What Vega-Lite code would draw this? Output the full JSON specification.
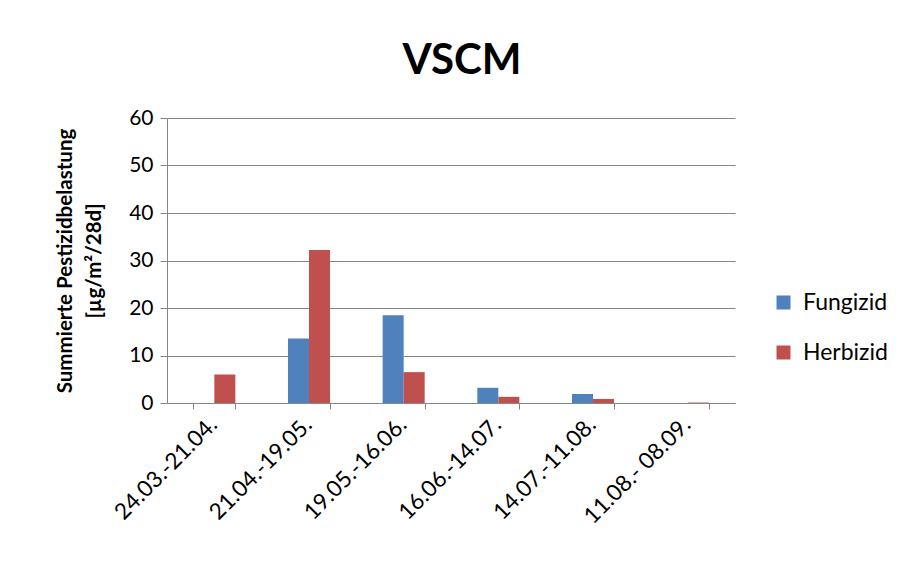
{
  "$schema": "https://vega.github.io/schema/vega-lite/v6.json",
  "width": 568,
  "height": 285,
  "autosize": {"type": "none"},
  "padding": {"left": 167, "top": 118, "right": 166, "bottom": 160},
  "background": "white",
  "title": {"text": "VSCM", "font": "Lato", "fontSize": 42, "fontWeight": "bold", "color": "black", "anchor": "middle", "offset": 24, "dx": 11},
  "data": {
    "values": [
      {"period": "24.03.-21.04.", "type": "Fungizid", "value": 0},
      {"period": "24.03.-21.04.", "type": "Herbizid", "value": 6.0},
      {"period": "21.04.-19.05.", "type": "Fungizid", "value": 13.6},
      {"period": "21.04.-19.05.", "type": "Herbizid", "value": 32.2},
      {"period": "19.05.-16.06.", "type": "Fungizid", "value": 18.5},
      {"period": "19.05.-16.06.", "type": "Herbizid", "value": 6.5},
      {"period": "16.06.-14.07.", "type": "Fungizid", "value": 3.2},
      {"period": "16.06.-14.07.", "type": "Herbizid", "value": 1.3},
      {"period": "14.07.-11.08.", "type": "Fungizid", "value": 1.9},
      {"period": "14.07.-11.08.", "type": "Herbizid", "value": 0.85},
      {"period": "11.08.- 08.09.", "type": "Fungizid", "value": 0},
      {"period": "11.08.- 08.09.", "type": "Herbizid", "value": 0.1}
    ]
  },
  "mark": {"type": "bar", "strokeWidth": 0},
  "encoding": {
    "x": {
      "field": "period", "type": "nominal", "sort": null,
      "scale": {"paddingInner": 0.556, "paddingOuter": 0.278},
      "axis": {
        "title": null, "labelAngle": -45, "tickBand": "extent", "grid": false,
        "domainColor": "#868686", "tickColor": "#868686", "tickSize": 6,
        "labelFont": "Lato", "labelFontSize": 22.5, "labelColor": "black", "labelPadding": 4, "labelOffset": -9
      }
    },
    "xOffset": {"field": "type", "type": "nominal", "scale": {"domain": ["Fungizid", "Herbizid"], "paddingInner": 0}},
    "y": {
      "field": "value", "type": "quantitative",
      "scale": {"domain": [0, 60], "nice": false},
      "axis": {
        "values": [0, 10, 20, 30, 40, 50, 60],
        "title": ["Summierte Pestizidbelastung", "[µg/m²/28d]"],
        "titleFont": "Lato", "titleFontSize": 20.5, "titleFontWeight": "bold", "titleColor": "black", "titleLineHeight": 29, "titlePadding": 24,
        "grid": true, "gridColor": "#868686", "domainColor": "#868686", "tickColor": "#868686", "tickSize": 7,
        "labelFont": "Lato", "labelFontSize": 21, "labelColor": "black", "labelPadding": 7
      }
    },
    "color": {
      "field": "type", "type": "nominal",
      "scale": {"domain": ["Fungizid", "Herbizid"], "range": ["#4F81BD", "#C0504D"]},
      "legend": {
        "orient": "none", "legendX": 605, "legendY": 173, "title": null,
        "symbolType": "square", "symbolSize": 196, "symbolStrokeWidth": 0,
        "labelFont": "Lato", "labelFontSize": 23, "labelColor": "black", "rowPadding": 26, "labelOffset": 8
      }
    }
  },
  "config": {"view": {"stroke": null}}
}
